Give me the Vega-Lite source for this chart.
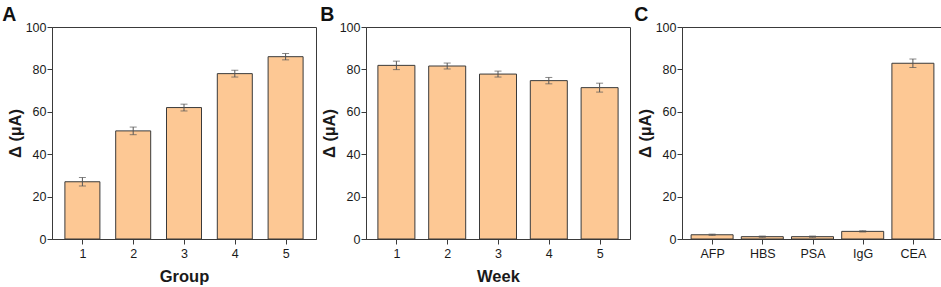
{
  "$schema": "https://vega.github.io/schema/vega-lite/v6.json",
  "padding": {"left": 1, "top": 4, "right": 3, "bottom": 2},
  "spacing": 2,
  "background": "white",
  "config": {
    "view": {"stroke": "#3a3a3a", "strokeWidth": 1},
    "font": "Liberation Sans",
    "axis": {
      "grid": false,
      "domainColor": "#3a3a3a",
      "tickColor": "#3a3a3a",
      "labelColor": "#1a1a1a",
      "labelFont": "Liberation Sans",
      "labelFontSize": 12.5,
      "titleFont": "Liberation Sans",
      "titleFontSize": 16.5,
      "titleFontWeight": "bold",
      "titleColor": "#1a1a1a",
      "labelPadding": 1
    },
    "title": {"fontSize": 19.5, "fontWeight": "bold", "anchor": "start", "frame": "bounds", "color": "#111", "font": "Liberation Sans", "offset": -4}
  },
  "hconcat": [
    {
      "width": 264,
      "height": 212,
      "title": {"text": "A", "dx": -5},
      "data": {"values": [
        {"g": 1, "v": 27, "e": 2},
        {"g": 2, "v": 51, "e": 1.8},
        {"g": 3, "v": 62, "e": 1.6},
        {"g": 4, "v": 78, "e": 1.6},
        {"g": 5, "v": 86, "e": 1.5}
      ]},
      "layer": [
        {
          "mark": {"type": "bar", "width": 35, "fill": "#fdc894", "stroke": "#3a3a3a", "strokeWidth": 1},
          "encoding": {
            "x": {"field": "g", "type": "quantitative", "title": "Group", "scale": {"domain": [0.5, 5.5], "nice": false},
              "axis": {"values": [1, 1.5, 2, 2.5, 3, 3.5, 4, 4.5, 5], "format": "d", "labelExpr": "datum.value % 1 === 0 ? datum.label : ''",
                "tickSize": {"condition": {"test": "datum.value % 1 === 0", "value": 5}, "value": 3},
                "titlePadding": 9, "labelPadding": 3}},
            "y": {"field": "v", "type": "quantitative", "title": "Δ (µA)", "scale": {"domain": [0, 100], "nice": false},
              "axis": {"values": [0, 10, 20, 30, 40, 50, 60, 70, 80, 90, 100], "labelExpr": "datum.value % 20 === 0 ? datum.label : ''",
                "tickSize": {"condition": {"test": "datum.value % 20 === 0", "value": 5}, "value": 3},
                "titlePadding": 2}}
          }
        },
        {
          "mark": {"type": "errorbar", "ticks": {"size": 7}, "color": "#555", "thickness": 1},
          "encoding": {
            "x": {"field": "g", "type": "quantitative", "title": "Group"},
            "y": {"field": "v", "type": "quantitative", "title": "Δ (µA)"},
            "yError": {"field": "e"}
          }
        }
      ]
    },
    {
      "width": 264,
      "height": 212,
      "title": {"text": "B", "dx": -1},
      "data": {"values": [
        {"g": 1, "v": 81.9, "e": 2},
        {"g": 2, "v": 81.6, "e": 1.4},
        {"g": 3, "v": 77.8, "e": 1.4},
        {"g": 4, "v": 74.7, "e": 1.5},
        {"g": 5, "v": 71.4, "e": 2.1}
      ]},
      "layer": [
        {
          "mark": {"type": "bar", "width": 37, "fill": "#fdc894", "stroke": "#3a3a3a", "strokeWidth": 1},
          "encoding": {
            "x": {"field": "g", "type": "quantitative", "title": "Week", "scale": {"domain": [0.5, 5.5], "nice": false},
              "axis": {"values": [1, 1.5, 2, 2.5, 3, 3.5, 4, 4.5, 5], "format": "d", "labelExpr": "datum.value % 1 === 0 ? datum.label : ''",
                "tickSize": {"condition": {"test": "datum.value % 1 === 0", "value": 5}, "value": 3},
                "titlePadding": 9, "labelPadding": 3}},
            "y": {"field": "v", "type": "quantitative", "title": "Δ (µA)", "scale": {"domain": [0, 100], "nice": false},
              "axis": {"values": [0, 10, 20, 30, 40, 50, 60, 70, 80, 90, 100], "labelExpr": "datum.value % 20 === 0 ? datum.label : ''",
                "tickSize": {"condition": {"test": "datum.value % 20 === 0", "value": 5}, "value": 3},
                "titlePadding": 2}}
          }
        },
        {
          "mark": {"type": "errorbar", "ticks": {"size": 7}, "color": "#555", "thickness": 1},
          "encoding": {
            "x": {"field": "g", "type": "quantitative", "title": "Week"},
            "y": {"field": "v", "type": "quantitative", "title": "Δ (µA)"},
            "yError": {"field": "e"}
          }
        }
      ]
    },
    {
      "width": 261,
      "height": 212,
      "title": {"text": "C", "dx": -3},
      "data": {"values": [
        {"g": 1, "name": "AFP", "v": 2.0, "e": 0.3},
        {"g": 2, "name": "HBS", "v": 1.1, "e": 0.3},
        {"g": 3, "name": "PSA", "v": 1.1, "e": 0.3},
        {"g": 4, "name": "IgG", "v": 3.6, "e": 0.3},
        {"g": 5, "name": "CEA", "v": 82.9, "e": 2}
      ]},
      "layer": [
        {
          "mark": {"type": "bar", "width": 42, "fill": "#fdc894", "stroke": "#3a3a3a", "strokeWidth": 1},
          "encoding": {
            "x": {"field": "g", "type": "quantitative", "title": null, "scale": {"domain": [0.5, 5.5], "nice": false},
              "axis": {"values": [1, 1.5, 2, 2.5, 3, 3.5, 4, 4.5, 5], "labelExpr": "datum.value % 1 === 0 ? ['AFP','HBS','PSA','IgG','CEA'][datum.value - 1] : ''",
                "tickSize": {"condition": {"test": "datum.value % 1 === 0", "value": 5}, "value": 3},
                "labelPadding": 3}},
            "y": {"field": "v", "type": "quantitative", "title": "Δ (µA)", "scale": {"domain": [0, 100], "nice": false},
              "axis": {"values": [0, 10, 20, 30, 40, 50, 60, 70, 80, 90, 100], "labelExpr": "datum.value % 20 === 0 ? datum.label : ''",
                "tickSize": {"condition": {"test": "datum.value % 20 === 0", "value": 5}, "value": 3},
                "titlePadding": 2}}
          }
        },
        {
          "mark": {"type": "errorbar", "ticks": {"size": 7}, "color": "#555", "thickness": 1},
          "encoding": {
            "x": {"field": "g", "type": "quantitative", "title": null},
            "y": {"field": "v", "type": "quantitative", "title": "Δ (µA)"},
            "yError": {"field": "e"}
          }
        }
      ]
    }
  ]
}
